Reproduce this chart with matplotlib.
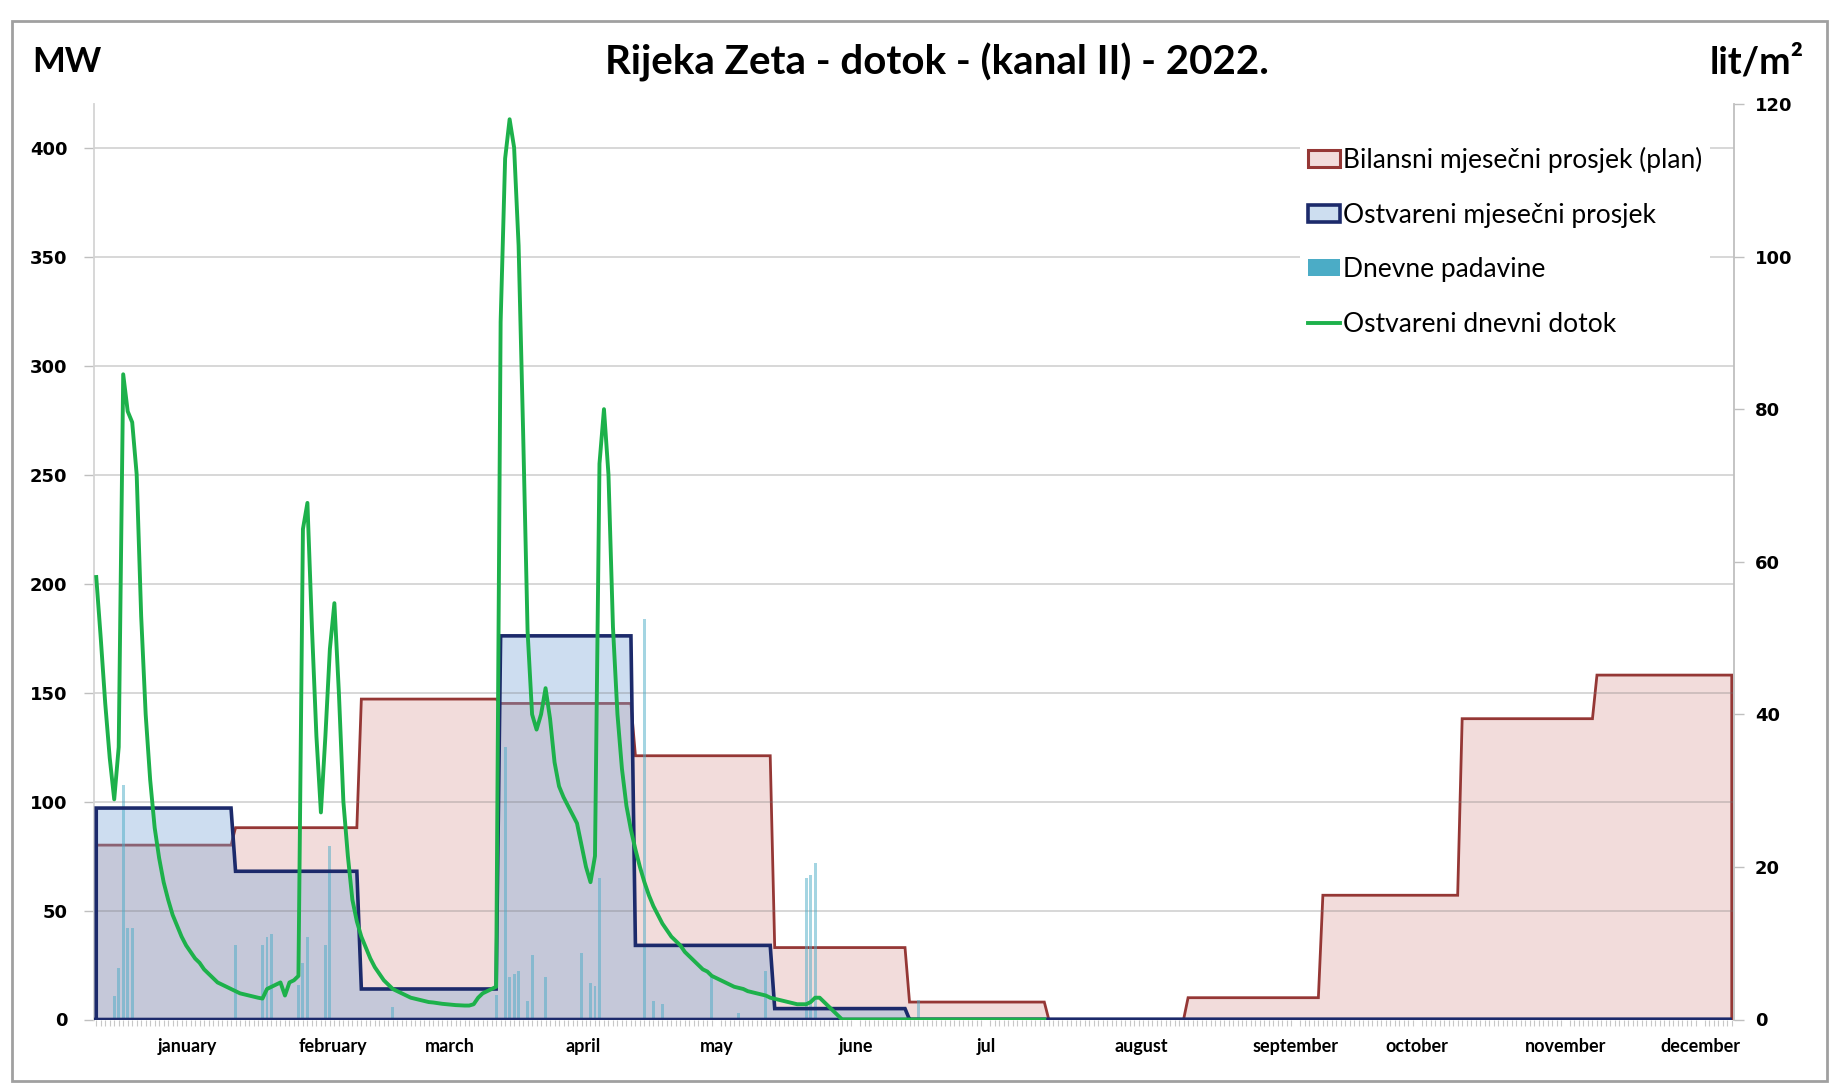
import numpy as np
import matplotlib
matplotlib.use("Agg")
import matplotlib.pyplot as plt
from matplotlib.patches import Patch, Rectangle
from matplotlib.lines import Line2D

# ---------------- data ----------------
months = ['january', 'february', 'march', 'april', 'may', 'june', 'jul',
          'august', 'september', 'october', 'november', 'december']
days_in_month = [31, 28, 31, 30, 31, 30, 31, 31, 30, 31, 30, 31]
label_days = [20.3, 52.7, 78.7, 108.3, 138, 169, 198, 232.6, 267, 294, 327, 357]

plan_monthly = [80, 88, 147, 145, 121, 33, 8, 0, 10, 57, 138, 158]
real_monthly = [97, 68, 14, 176, 34, 5, 0, 0, 0, 0, 0, 0]

inflow_jan = [203, 175, 145, 120, 101, 125, 296, 279, 274, 250, 185, 140, 110, 88, 74, 63,
              55, 48, 43, 38, 34, 31, 28, 26, 23, 21, 19, 17, 16, 15, 14]
inflow_feb = [13, 12, 11.5, 11, 10.5, 10, 9.6, 14, 15, 16, 17, 11, 17, 18, 20, 225, 237,
              180, 130, 95, 130, 170, 191, 150, 100, 75, 55, 45]
inflow_mar = [38, 33, 28, 24, 21, 18, 16, 14, 13, 12, 11, 10, 9.5, 9, 8.5, 8, 7.8, 7.5,
              7.2, 7, 6.8, 6.6, 6.5, 6.4, 6.4, 7, 10, 12, 13, 14, 15]
inflow_apr = [320, 395, 413, 400, 355, 270, 178, 140, 133, 140, 152, 138, 118, 107, 102,
              98, 94, 90, 80, 70, 63, 75, 255, 280, 250, 180, 140, 115, 98, 87]
inflow_may = [78, 70, 63, 57, 52, 48, 44, 41, 38, 36, 34, 31, 29, 27, 25, 23, 22, 20, 19,
              18, 17, 16, 15, 14.5, 14, 13, 12.5, 12, 11.5, 11, 10]
inflow_jun_jul = [9.5, 9, 8.5, 8, 7.5, 7, 7, 7, 8, 10, 10, 8, 6, 4, 2] + [0] * 46

rain_days = [4, 5, 6, 7, 8, 31, 37, 38, 39, 45, 46, 47, 51, 52, 66,
             89, 91, 92, 93, 94, 96, 97, 100, 108, 110, 111, 112,
             122, 124, 126, 137, 143, 149, 158, 159, 160, 183]
rain_vals = [3.1, 6.8, 30.7, 12, 12, 9.7, 9.7, 10.8, 11.2, 4.5, 7.4, 10.8, 9.7, 22.7, 1.7,
             3.2, 35.7, 5.6, 6.0, 6.4, 2.4, 8.4, 5.6, 8.7, 4.8, 4.4, 18.5,
             52.5, 2.4, 2.0, 5.6, 0.8, 6.4, 18.5, 19.0, 20.5, 2.5]

# ---------------- derived ----------------
plan_daily = np.repeat(plan_monthly, days_in_month).astype(float)
real_daily = np.repeat(real_monthly, days_in_month).astype(float)
days = np.arange(len(plan_daily))
inflow = np.array(inflow_jan + inflow_feb + inflow_mar + inflow_apr + inflow_may + inflow_jun_jul)
inflow_days = np.arange(len(inflow))

# ---------------- style ----------------
PINK = '#f2dcdb'
RED = '#953735'
NAVY = '#1c2a6b'
BLUE_FILL = (125 / 255, 169 / 255, 216 / 255)
GREEN = '#1db14b'
RAIN = '#4bacc6'

W, H = 1833, 1084
fig = plt.figure(figsize=(W / 100, H / 100), dpi=100)
fig.patch.set_facecolor('white')

left, right = 94 / W, 1734 / W
bottom, top = 1 - 1019.5 / H, 1 - 104 / H
ax1 = fig.add_axes([left, bottom, right - left, top - bottom])

# plan area
ax1.fill_between(days, 0, plan_daily, color=PINK, lw=0, zorder=1)
px = np.concatenate([[days[0]], days, [days[-1]]])
ax1.plot(px, np.concatenate([[0], plan_daily, [0]]), color=RED, lw=2.0, zorder=1.5,
         solid_joinstyle='miter')
# realised area (semi-transparent)
ax1.fill_between(days, 0, real_daily, color=BLUE_FILL, alpha=0.385, lw=0, zorder=1.6)

# grid on top of fills
for v in range(50, 401, 50):
    ax1.axhline(v, color=(0.45, 0.45, 0.45), alpha=0.3, lw=1.3, zorder=1.7)

ax1.set_xlim(-0.5, len(days) - 0.5)
ax1.set_ylim(0, 420)
ax1.set_yticks(range(0, 401, 50))
ax1.tick_params(axis='y', which='both', direction='out', length=7, width=1,
                color='#bfbfbf', pad=12, labelsize=13)
for lab in ax1.get_yticklabels():
    lab.set_fontweight('bold')
    lab.set_family('DejaVu Sans')
ax1.set_xticks(label_days)
ax1.set_xticklabels(months, fontfamily='Lato', fontweight='bold', fontsize=13)
ax1.set_xticks(np.arange(0, len(days), 1), minor=True)
ax1.tick_params(axis='x', which='major', length=0, pad=13)
ax1.tick_params(axis='x', which='minor', length=4, width=0.8, color='#c8c8c8')
for s in ['top', 'right', 'bottom']:
    ax1.spines[s].set_visible(False)
ax1.spines['left'].set_color('#d4d4d4')
ax1.spines['left'].set_linewidth(1.3)

# rain on secondary axis
ax2 = ax1.twinx()
ax2.bar(rain_days, rain_vals, width=0.65, color=RAIN, alpha=0.5, lw=0, zorder=2)
ax2.set_ylim(0, 120)
ax2.set_yticks(range(0, 121, 20))
ax2.tick_params(axis='y', direction='out', length=7, width=1, color='#bfbfbf', pad=8,
                labelsize=13)
for lab in ax2.get_yticklabels():
    lab.set_fontweight('bold')
    lab.set_family('DejaVu Sans')
for s in ['top', 'left', 'bottom']:
    ax2.spines[s].set_visible(False)
ax2.spines['right'].set_color('#bfbfbf')
ax2.spines['right'].set_linewidth(1.3)

# lines on top
ax3 = ax1.twinx()
ax3.set_ylim(0, 420)
ax3.set_xlim(ax1.get_xlim())
ax3.axis('off')
rx = np.concatenate([[days[0]], days, [days[-1], days[0]]])
ry = np.concatenate([[0], real_daily, [0, 0]])
ax3.plot(rx, ry, color=NAVY, lw=2.6, solid_joinstyle='miter', zorder=3)
ax3.plot(inflow_days, inflow, color=GREEN, lw=2.8, zorder=4, solid_joinstyle='round')

# texts
fig.text(0.511, 1 - 62 / H, 'Rijeka Zeta - dotok - (kanal II) - 2022.', ha='center',
         va='center', fontsize=29, fontweight='bold', fontfamily='Lato')
fig.text(67 / W, 1 - 62 / H, 'MW', ha='center', va='center', fontsize=25,
         fontweight='bold', fontfamily='Lato')
fig.text(1757 / W, 1 - 62 / H, 'lit/m²', ha='center', va='center', fontsize=27,
         fontweight='bold', fontfamily='Lato')

# legend
handles = [Patch(facecolor=PINK, edgecolor=RED, lw=2.2),
           Patch(facecolor='#cddef0', edgecolor=NAVY, lw=2.6),
           Patch(facecolor=RAIN, edgecolor='none'),
           Line2D([0], [0], color=GREEN, lw=2.8)]
labels = ['Bilansni mjesečni prosjek (plan)', 'Ostvareni mjesečni prosjek',
          'Dnevne padavine', 'Ostvareni dnevni dotok']
leg = fig.legend(handles, labels, loc='upper left',
                 bbox_to_anchor=(1300 / W, 1 - 139 / H), frameon=True,
                 prop={'family': 'Lato', 'size': 19}, handlelength=1.2,
                 handleheight=0.62, handletextpad=0.12, labelspacing=1.12,
                 borderpad=0.3, borderaxespad=0)
leg.get_frame().set_facecolor('white')
leg.get_frame().set_edgecolor('none')
leg.get_frame().set_alpha(1)

# outer frame
fig.patches.append(Rectangle((12 / W, 3 / H), (1827 - 12) / W, (1081 - 21) / H,
                             transform=fig.transFigure, fill=False,
                             edgecolor='#a0a0a0', lw=2))

fig.savefig('out.png', dpi=100, facecolor='white')
